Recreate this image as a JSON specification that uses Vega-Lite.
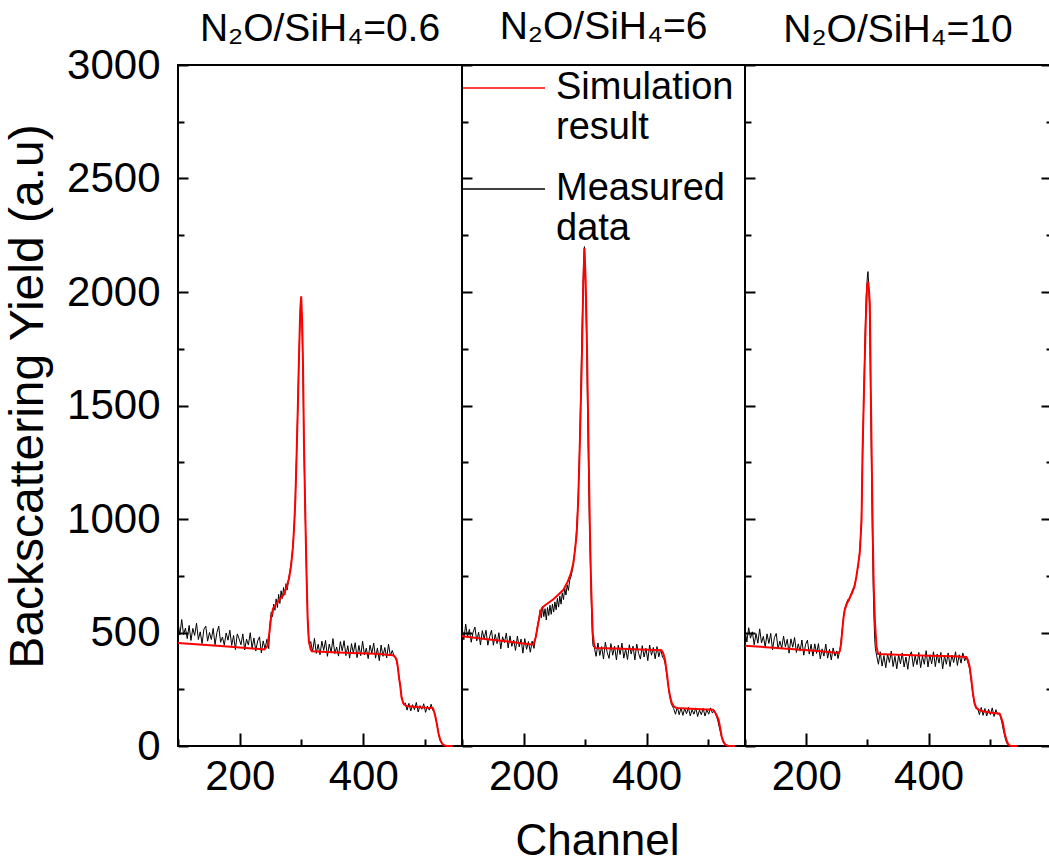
{
  "$schema": "https://vega.github.io/schema/vega-lite/v6.json",
  "padding": {"left": 3, "top": 7, "right": 0, "bottom": 0},
  "background": "white",
  "spacing": 0,
  "bounds": "flush",
  "datasets": {
    "p1": [
      {"s":"meas","ch":100,"y":545},{"s":"meas","ch":103,"y":489},{"s":"meas","ch":106,"y":557},{"s":"meas","ch":109,"y":491},{"s":"meas","ch":112,"y":519},{"s":"meas","ch":115,"y":473},{"s":"meas","ch":118,"y":531},{"s":"meas","ch":121,"y":465},{"s":"meas","ch":124,"y":518},{"s":"meas","ch":127,"y":487},{"s":"meas","ch":130,"y":541},{"s":"meas","ch":133,"y":469},{"s":"meas","ch":136,"y":503},{"s":"meas","ch":139,"y":451},{"s":"meas","ch":142,"y":515},{"s":"meas","ch":145,"y":528},{"s":"meas","ch":148,"y":462},{"s":"meas","ch":151,"y":500},{"s":"meas","ch":154,"y":469},{"s":"meas","ch":157,"y":518},{"s":"meas","ch":160,"y":446},{"s":"meas","ch":163,"y":500},{"s":"meas","ch":166,"y":528},{"s":"meas","ch":169,"y":457},{"s":"meas","ch":172,"y":480},{"s":"meas","ch":175,"y":444},{"s":"meas","ch":178,"y":498},{"s":"meas","ch":181,"y":466},{"s":"meas","ch":184,"y":510},{"s":"meas","ch":187,"y":443},{"s":"meas","ch":190,"y":487},{"s":"meas","ch":193,"y":425},{"s":"meas","ch":196,"y":494},{"s":"meas","ch":199,"y":472},{"s":"meas","ch":202,"y":446},{"s":"meas","ch":205,"y":494},{"s":"meas","ch":208,"y":423},{"s":"meas","ch":211,"y":471},{"s":"meas","ch":214,"y":445},{"s":"meas","ch":217,"y":499},{"s":"meas","ch":220,"y":432},{"s":"meas","ch":223,"y":476},{"s":"meas","ch":226,"y":419},{"s":"meas","ch":229,"y":463},{"s":"meas","ch":232,"y":481},{"s":"meas","ch":235,"y":410},{"s":"meas","ch":238,"y":463},{"s":"meas","ch":241,"y":427},{"s":"meas","ch":244,"y":470},{"s":"meas","ch":247,"y":429},{"s":"meas","ch":249,"y":540},{"s":"meas","ch":251,"y":590},{"s":"meas","ch":253,"y":570},{"s":"meas","ch":255,"y":625},{"s":"meas","ch":257,"y":598},{"s":"meas","ch":259,"y":648},{"s":"meas","ch":261,"y":610},{"s":"meas","ch":263,"y":668},{"s":"meas","ch":265,"y":628},{"s":"meas","ch":267,"y":684},{"s":"meas","ch":269,"y":650},{"s":"meas","ch":271,"y":698},{"s":"meas","ch":273,"y":665},{"s":"meas","ch":275,"y":715},{"s":"meas","ch":277,"y":688},{"s":"meas","ch":279,"y":735},{"s":"meas","ch":281,"y":765},{"s":"meas","ch":283,"y":800},{"s":"meas","ch":285,"y":850},{"s":"meas","ch":287,"y":920},{"s":"meas","ch":289,"y":1010},{"s":"meas","ch":291,"y":1180},{"s":"meas","ch":293,"y":1390},{"s":"meas","ch":295,"y":1610},{"s":"meas","ch":297,"y":1820},{"s":"meas","ch":299,"y":1960},{"s":"meas","ch":300,"y":1930},{"s":"meas","ch":301,"y":1840},{"s":"meas","ch":302,"y":1700},{"s":"meas","ch":303,"y":1520},{"s":"meas","ch":304,"y":1330},{"s":"meas","ch":305,"y":1170},{"s":"meas","ch":306,"y":1030},{"s":"meas","ch":307,"y":900},{"s":"meas","ch":308,"y":780},{"s":"meas","ch":309,"y":660},{"s":"meas","ch":310,"y":560},{"s":"meas","ch":311,"y":500},{"s":"meas","ch":312,"y":462},{"s":"meas","ch":313,"y":448},{"s":"meas","ch":315,"y":460},{"s":"meas","ch":318,"y":414},{"s":"meas","ch":321,"y":474},{"s":"meas","ch":324,"y":408},{"s":"meas","ch":327,"y":448},{"s":"meas","ch":330,"y":402},{"s":"meas","ch":333,"y":462},{"s":"meas","ch":336,"y":421},{"s":"meas","ch":339,"y":465},{"s":"meas","ch":342,"y":395},{"s":"meas","ch":345,"y":449},{"s":"meas","ch":348,"y":413},{"s":"meas","ch":351,"y":473},{"s":"meas","ch":354,"y":407},{"s":"meas","ch":357,"y":436},{"s":"meas","ch":360,"y":396},{"s":"meas","ch":363,"y":460},{"s":"meas","ch":366,"y":419},{"s":"meas","ch":369,"y":464},{"s":"meas","ch":372,"y":398},{"s":"meas","ch":375,"y":442},{"s":"meas","ch":378,"y":387},{"s":"meas","ch":381,"y":451},{"s":"meas","ch":384,"y":410},{"s":"meas","ch":387,"y":455},{"s":"meas","ch":390,"y":389},{"s":"meas","ch":393,"y":443},{"s":"meas","ch":396,"y":398},{"s":"meas","ch":399,"y":462},{"s":"meas","ch":402,"y":401},{"s":"meas","ch":405,"y":431},{"s":"meas","ch":408,"y":385},{"s":"meas","ch":411,"y":444},{"s":"meas","ch":414,"y":409},{"s":"meas","ch":417,"y":453},{"s":"meas","ch":420,"y":387},{"s":"meas","ch":423,"y":432},{"s":"meas","ch":426,"y":376},{"s":"meas","ch":429,"y":445},{"s":"meas","ch":432,"y":395},{"s":"meas","ch":435,"y":434},{"s":"meas","ch":438,"y":388},{"s":"meas","ch":441,"y":448},{"s":"meas","ch":444,"y":397},{"s":"meas","ch":447,"y":421},{"s":"meas","ch":450,"y":396},{"s":"meas","ch":452,"y":388},{"s":"meas","ch":454,"y":375},{"s":"meas","ch":456,"y":345},{"s":"meas","ch":458,"y":305},{"s":"meas","ch":460,"y":265},{"s":"meas","ch":462,"y":222},{"s":"meas","ch":464,"y":196},{"s":"meas","ch":466,"y":180},{"s":"meas","ch":468,"y":190},{"s":"meas","ch":471,"y":158},{"s":"meas","ch":474,"y":188},{"s":"meas","ch":477,"y":155},{"s":"meas","ch":480,"y":182},{"s":"meas","ch":483,"y":160},{"s":"meas","ch":486,"y":192},{"s":"meas","ch":489,"y":150},{"s":"meas","ch":492,"y":178},{"s":"meas","ch":495,"y":162},{"s":"meas","ch":498,"y":186},{"s":"meas","ch":501,"y":148},{"s":"meas","ch":504,"y":176},{"s":"meas","ch":507,"y":158},{"s":"meas","ch":510,"y":184},{"s":"meas","ch":513,"y":155},{"s":"meas","ch":515,"y":152},{"s":"meas","ch":517,"y":132},{"s":"meas","ch":519,"y":104},{"s":"meas","ch":521,"y":70},{"s":"meas","ch":523,"y":40},{"s":"meas","ch":525,"y":22},{"s":"meas","ch":527,"y":12},{"s":"meas","ch":530,"y":5},{"s":"meas","ch":533,"y":2},{"s":"meas","ch":536,"y":0},{"s":"meas","ch":540,"y":1},
      {"s":"sim","ch":100,"y":454},{"s":"sim","ch":140,"y":446},{"s":"sim","ch":180,"y":438},{"s":"sim","ch":220,"y":430},{"s":"sim","ch":240,"y":425},{"s":"sim","ch":245,"y":440},{"s":"sim","ch":248,"y":500},{"s":"sim","ch":251,"y":570},{"s":"sim","ch":254,"y":605},{"s":"sim","ch":260,"y":630},{"s":"sim","ch":266,"y":650},{"s":"sim","ch":271,"y":665},{"s":"sim","ch":276,"y":700},{"s":"sim","ch":280,"y":740},{"s":"sim","ch":283,"y":790},{"s":"sim","ch":286,"y":870},{"s":"sim","ch":288,"y":960},{"s":"sim","ch":290,"y":1080},{"s":"sim","ch":292,"y":1270},{"s":"sim","ch":294,"y":1480},{"s":"sim","ch":296,"y":1720},{"s":"sim","ch":298,"y":1920},{"s":"sim","ch":299.5,"y":1981},{"s":"sim","ch":301,"y":1880},{"s":"sim","ch":302.5,"y":1680},{"s":"sim","ch":304,"y":1340},{"s":"sim","ch":306,"y":1050},{"s":"sim","ch":308,"y":780},{"s":"sim","ch":310,"y":560},{"s":"sim","ch":312,"y":460},{"s":"sim","ch":315,"y":425},{"s":"sim","ch":317,"y":417},{"s":"sim","ch":340,"y":414},{"s":"sim","ch":380,"y":410},{"s":"sim","ch":420,"y":406},{"s":"sim","ch":448,"y":400},{"s":"sim","ch":451,"y":394},{"s":"sim","ch":454,"y":382},{"s":"sim","ch":456,"y":350},{"s":"sim","ch":458,"y":300},{"s":"sim","ch":460,"y":265},{"s":"sim","ch":462,"y":215},{"s":"sim","ch":465,"y":188},{"s":"sim","ch":470,"y":176},{"s":"sim","ch":490,"y":171},{"s":"sim","ch":513,"y":167},{"s":"sim","ch":516,"y":140},{"s":"sim","ch":519,"y":101},{"s":"sim","ch":522,"y":55},{"s":"sim","ch":525,"y":25},{"s":"sim","ch":528,"y":10},{"s":"sim","ch":531,"y":3},{"s":"sim","ch":535,"y":0},{"s":"sim","ch":545,"y":0}
    ],
    "p2": [
      {"s":"meas","ch":100,"y":525},{"s":"meas","ch":103,"y":468},{"s":"meas","ch":106,"y":537},{"s":"meas","ch":109,"y":480},{"s":"meas","ch":112,"y":514},{"s":"meas","ch":115,"y":457},{"s":"meas","ch":118,"y":501},{"s":"meas","ch":121,"y":524},{"s":"meas","ch":124,"y":463},{"s":"meas","ch":127,"y":501},{"s":"meas","ch":130,"y":445},{"s":"meas","ch":133,"y":508},{"s":"meas","ch":136,"y":472},{"s":"meas","ch":139,"y":510},{"s":"meas","ch":142,"y":444},{"s":"meas","ch":145,"y":482},{"s":"meas","ch":148,"y":510},{"s":"meas","ch":151,"y":444},{"s":"meas","ch":154,"y":492},{"s":"meas","ch":157,"y":451},{"s":"meas","ch":160,"y":499},{"s":"meas","ch":163,"y":428},{"s":"meas","ch":166,"y":481},{"s":"meas","ch":169,"y":455},{"s":"meas","ch":172,"y":498},{"s":"meas","ch":175,"y":432},{"s":"meas","ch":178,"y":485},{"s":"meas","ch":181,"y":439},{"s":"meas","ch":184,"y":467},{"s":"meas","ch":187,"y":421},{"s":"meas","ch":190,"y":484},{"s":"meas","ch":193,"y":437},{"s":"meas","ch":196,"y":471},{"s":"meas","ch":199,"y":409},{"s":"meas","ch":202,"y":473},{"s":"meas","ch":205,"y":426},{"s":"meas","ch":208,"y":460},{"s":"meas","ch":211,"y":413},{"s":"meas","ch":214,"y":462},{"s":"meas","ch":217,"y":430},{"s":"meas","ch":219,"y":470},{"s":"meas","ch":221,"y":500},{"s":"meas","ch":223,"y":535},{"s":"meas","ch":225,"y":560},{"s":"meas","ch":227,"y":600},{"s":"meas","ch":229,"y":565},{"s":"meas","ch":231,"y":615},{"s":"meas","ch":233,"y":570},{"s":"meas","ch":235,"y":605},{"s":"meas","ch":237,"y":555},{"s":"meas","ch":239,"y":610},{"s":"meas","ch":241,"y":575},{"s":"meas","ch":243,"y":620},{"s":"meas","ch":245,"y":580},{"s":"meas","ch":247,"y":625},{"s":"meas","ch":249,"y":590},{"s":"meas","ch":251,"y":635},{"s":"meas","ch":253,"y":600},{"s":"meas","ch":255,"y":650},{"s":"meas","ch":257,"y":612},{"s":"meas","ch":259,"y":660},{"s":"meas","ch":261,"y":625},{"s":"meas","ch":263,"y":675},{"s":"meas","ch":265,"y":645},{"s":"meas","ch":267,"y":695},{"s":"meas","ch":269,"y":665},{"s":"meas","ch":271,"y":710},{"s":"meas","ch":273,"y":685},{"s":"meas","ch":275,"y":730},{"s":"meas","ch":277,"y":745},{"s":"meas","ch":279,"y":770},{"s":"meas","ch":281,"y":800},{"s":"meas","ch":283,"y":850},{"s":"meas","ch":285,"y":905},{"s":"meas","ch":287,"y":990},{"s":"meas","ch":289,"y":1110},{"s":"meas","ch":291,"y":1300},{"s":"meas","ch":293,"y":1560},{"s":"meas","ch":295,"y":1820},{"s":"meas","ch":297,"y":2060},{"s":"meas","ch":298,"y":2160},{"s":"meas","ch":299,"y":2200},{"s":"meas","ch":300,"y":2120},{"s":"meas","ch":301,"y":2000},{"s":"meas","ch":302,"y":1860},{"s":"meas","ch":303,"y":1700},{"s":"meas","ch":304,"y":1500},{"s":"meas","ch":305,"y":1330},{"s":"meas","ch":306,"y":1150},{"s":"meas","ch":307,"y":1000},{"s":"meas","ch":308,"y":880},{"s":"meas","ch":309,"y":760},{"s":"meas","ch":310,"y":650},{"s":"meas","ch":311,"y":560},{"s":"meas","ch":312,"y":480},{"s":"meas","ch":313,"y":440},{"s":"meas","ch":315,"y":435},{"s":"meas","ch":318,"y":395},{"s":"meas","ch":321,"y":454},{"s":"meas","ch":324,"y":399},{"s":"meas","ch":327,"y":438},{"s":"meas","ch":330,"y":383},{"s":"meas","ch":333,"y":457},{"s":"meas","ch":336,"y":412},{"s":"meas","ch":339,"y":386},{"s":"meas","ch":342,"y":451},{"s":"meas","ch":345,"y":400},{"s":"meas","ch":348,"y":440},{"s":"meas","ch":351,"y":379},{"s":"meas","ch":354,"y":444},{"s":"meas","ch":357,"y":403},{"s":"meas","ch":360,"y":453},{"s":"meas","ch":363,"y":387},{"s":"meas","ch":366,"y":427},{"s":"meas","ch":369,"y":381},{"s":"meas","ch":372,"y":446},{"s":"meas","ch":375,"y":405},{"s":"meas","ch":378,"y":440},{"s":"meas","ch":381,"y":379},{"s":"meas","ch":384,"y":449},{"s":"meas","ch":387,"y":408},{"s":"meas","ch":390,"y":383},{"s":"meas","ch":393,"y":442},{"s":"meas","ch":396,"y":392},{"s":"meas","ch":399,"y":431},{"s":"meas","ch":402,"y":376},{"s":"meas","ch":405,"y":445},{"s":"meas","ch":408,"y":400},{"s":"meas","ch":411,"y":434},{"s":"meas","ch":414,"y":384},{"s":"meas","ch":417,"y":438},{"s":"meas","ch":420,"y":393},{"s":"meas","ch":423,"y":427},{"s":"meas","ch":426,"y":390},{"s":"meas","ch":428,"y":385},{"s":"meas","ch":430,"y":365},{"s":"meas","ch":432,"y":330},{"s":"meas","ch":434,"y":290},{"s":"meas","ch":436,"y":250},{"s":"meas","ch":438,"y":215},{"s":"meas","ch":440,"y":188},{"s":"meas","ch":442,"y":175},{"s":"meas","ch":444,"y":165},{"s":"meas","ch":447,"y":140},{"s":"meas","ch":450,"y":172},{"s":"meas","ch":453,"y":138},{"s":"meas","ch":456,"y":168},{"s":"meas","ch":459,"y":135},{"s":"meas","ch":462,"y":165},{"s":"meas","ch":465,"y":142},{"s":"meas","ch":468,"y":170},{"s":"meas","ch":471,"y":133},{"s":"meas","ch":474,"y":160},{"s":"meas","ch":477,"y":140},{"s":"meas","ch":480,"y":168},{"s":"meas","ch":483,"y":130},{"s":"meas","ch":486,"y":158},{"s":"meas","ch":489,"y":138},{"s":"meas","ch":492,"y":166},{"s":"meas","ch":495,"y":132},{"s":"meas","ch":498,"y":160},{"s":"meas","ch":501,"y":140},{"s":"meas","ch":504,"y":168},{"s":"meas","ch":507,"y":145},{"s":"meas","ch":510,"y":158},{"s":"meas","ch":512,"y":142},{"s":"meas","ch":514,"y":128},{"s":"meas","ch":516,"y":110},{"s":"meas","ch":518,"y":85},{"s":"meas","ch":520,"y":62},{"s":"meas","ch":522,"y":38},{"s":"meas","ch":524,"y":20},{"s":"meas","ch":526,"y":10},{"s":"meas","ch":529,"y":4},{"s":"meas","ch":532,"y":1},{"s":"meas","ch":536,"y":0},
      {"s":"sim","ch":100,"y":483},{"s":"sim","ch":130,"y":474},{"s":"sim","ch":160,"y":465},{"s":"sim","ch":190,"y":455},{"s":"sim","ch":216,"y":446},{"s":"sim","ch":220,"y":480},{"s":"sim","ch":224,"y":542},{"s":"sim","ch":227,"y":585},{"s":"sim","ch":230,"y":608},{"s":"sim","ch":235,"y":620},{"s":"sim","ch":240,"y":630},{"s":"sim","ch":248,"y":645},{"s":"sim","ch":256,"y":665},{"s":"sim","ch":265,"y":689},{"s":"sim","ch":272,"y":725},{"s":"sim","ch":277,"y":760},{"s":"sim","ch":281,"y":806},{"s":"sim","ch":284,"y":870},{"s":"sim","ch":286.5,"y":938},{"s":"sim","ch":289,"y":1085},{"s":"sim","ch":292,"y":1379},{"s":"sim","ch":294.6,"y":1673},{"s":"sim","ch":297.2,"y":2040},{"s":"sim","ch":299,"y":2194},{"s":"sim","ch":301,"y":2050},{"s":"sim","ch":302.8,"y":1819},{"s":"sim","ch":305.4,"y":1379},{"s":"sim","ch":308,"y":938},{"s":"sim","ch":310,"y":700},{"s":"sim","ch":312.5,"y":498},{"s":"sim","ch":314.5,"y":450},{"s":"sim","ch":316.5,"y":432},{"s":"sim","ch":350,"y":429},{"s":"sim","ch":390,"y":425},{"s":"sim","ch":424,"y":422},{"s":"sim","ch":427,"y":410},{"s":"sim","ch":430,"y":380},{"s":"sim","ch":433,"y":320},{"s":"sim","ch":435.5,"y":263},{"s":"sim","ch":438,"y":220},{"s":"sim","ch":441,"y":189},{"s":"sim","ch":445,"y":173},{"s":"sim","ch":449,"y":167},{"s":"sim","ch":480,"y":163},{"s":"sim","ch":508,"y":160},{"s":"sim","ch":511,"y":150},{"s":"sim","ch":514,"y":135},{"s":"sim","ch":517,"y":116},{"s":"sim","ch":520,"y":75},{"s":"sim","ch":522,"y":43},{"s":"sim","ch":525,"y":18},{"s":"sim","ch":528,"y":6},{"s":"sim","ch":532,"y":1},{"s":"sim","ch":544,"y":0}
    ],
    "p3": [
      {"s":"meas","ch":100,"y":515},{"s":"meas","ch":103,"y":458},{"s":"meas","ch":106,"y":521},{"s":"meas","ch":109,"y":475},{"s":"meas","ch":112,"y":503},{"s":"meas","ch":115,"y":446},{"s":"meas","ch":118,"y":495},{"s":"meas","ch":121,"y":453},{"s":"meas","ch":124,"y":516},{"s":"meas","ch":127,"y":454},{"s":"meas","ch":130,"y":483},{"s":"meas","ch":133,"y":436},{"s":"meas","ch":136,"y":494},{"s":"meas","ch":139,"y":452},{"s":"meas","ch":142,"y":496},{"s":"meas","ch":145,"y":424},{"s":"meas","ch":148,"y":477},{"s":"meas","ch":151,"y":496},{"s":"meas","ch":154,"y":429},{"s":"meas","ch":157,"y":462},{"s":"meas","ch":160,"y":431},{"s":"meas","ch":163,"y":484},{"s":"meas","ch":166,"y":437},{"s":"meas","ch":169,"y":470},{"s":"meas","ch":172,"y":409},{"s":"meas","ch":175,"y":472},{"s":"meas","ch":178,"y":435},{"s":"meas","ch":181,"y":478},{"s":"meas","ch":184,"y":412},{"s":"meas","ch":187,"y":450},{"s":"meas","ch":190,"y":418},{"s":"meas","ch":193,"y":467},{"s":"meas","ch":196,"y":400},{"s":"meas","ch":199,"y":448},{"s":"meas","ch":202,"y":466},{"s":"meas","ch":205,"y":405},{"s":"meas","ch":208,"y":448},{"s":"meas","ch":211,"y":396},{"s":"meas","ch":214,"y":450},{"s":"meas","ch":217,"y":408},{"s":"meas","ch":220,"y":451},{"s":"meas","ch":223,"y":384},{"s":"meas","ch":226,"y":428},{"s":"meas","ch":229,"y":396},{"s":"meas","ch":232,"y":449},{"s":"meas","ch":235,"y":387},{"s":"meas","ch":238,"y":426},{"s":"meas","ch":241,"y":379},{"s":"meas","ch":244,"y":432},{"s":"meas","ch":247,"y":396},{"s":"meas","ch":250,"y":419},{"s":"meas","ch":252,"y":385},{"s":"meas","ch":254,"y":410},{"s":"meas","ch":256,"y":440},{"s":"meas","ch":258,"y":490},{"s":"meas","ch":260,"y":545},{"s":"meas","ch":262,"y":590},{"s":"meas","ch":264,"y":615},{"s":"meas","ch":266,"y":630},{"s":"meas","ch":268,"y":645},{"s":"meas","ch":270,"y":640},{"s":"meas","ch":272,"y":660},{"s":"meas","ch":274,"y":675},{"s":"meas","ch":276,"y":690},{"s":"meas","ch":278,"y":700},{"s":"meas","ch":280,"y":720},{"s":"meas","ch":282,"y":745},{"s":"meas","ch":284,"y":780},{"s":"meas","ch":286,"y":820},{"s":"meas","ch":288,"y":880},{"s":"meas","ch":290,"y":990},{"s":"meas","ch":292,"y":1250},{"s":"meas","ch":294,"y":1520},{"s":"meas","ch":296,"y":1790},{"s":"meas","ch":298,"y":1980},{"s":"meas","ch":300,"y":2070},{"s":"meas","ch":301,"y":2090},{"s":"meas","ch":302,"y":2040},{"s":"meas","ch":303,"y":1950},{"s":"meas","ch":304,"y":1800},{"s":"meas","ch":305,"y":1600},{"s":"meas","ch":306,"y":1380},{"s":"meas","ch":307,"y":1160},{"s":"meas","ch":308,"y":960},{"s":"meas","ch":309,"y":780},{"s":"meas","ch":310,"y":640},{"s":"meas","ch":311,"y":540},{"s":"meas","ch":312,"y":470},{"s":"meas","ch":313,"y":430},{"s":"meas","ch":315,"y":400},{"s":"meas","ch":318,"y":360},{"s":"meas","ch":321,"y":415},{"s":"meas","ch":324,"y":352},{"s":"meas","ch":327,"y":398},{"s":"meas","ch":330,"y":345},{"s":"meas","ch":333,"y":405},{"s":"meas","ch":336,"y":368},{"s":"meas","ch":339,"y":418},{"s":"meas","ch":342,"y":350},{"s":"meas","ch":345,"y":395},{"s":"meas","ch":348,"y":340},{"s":"meas","ch":351,"y":402},{"s":"meas","ch":354,"y":362},{"s":"meas","ch":357,"y":410},{"s":"meas","ch":360,"y":348},{"s":"meas","ch":363,"y":392},{"s":"meas","ch":366,"y":338},{"s":"meas","ch":369,"y":400},{"s":"meas","ch":372,"y":415},{"s":"meas","ch":375,"y":350},{"s":"meas","ch":378,"y":398},{"s":"meas","ch":381,"y":358},{"s":"meas","ch":384,"y":412},{"s":"meas","ch":387,"y":345},{"s":"meas","ch":390,"y":396},{"s":"meas","ch":393,"y":360},{"s":"meas","ch":396,"y":420},{"s":"meas","ch":399,"y":348},{"s":"meas","ch":402,"y":402},{"s":"meas","ch":405,"y":362},{"s":"meas","ch":408,"y":415},{"s":"meas","ch":411,"y":350},{"s":"meas","ch":414,"y":405},{"s":"meas","ch":417,"y":365},{"s":"meas","ch":420,"y":412},{"s":"meas","ch":423,"y":340},{"s":"meas","ch":426,"y":398},{"s":"meas","ch":429,"y":360},{"s":"meas","ch":432,"y":410},{"s":"meas","ch":435,"y":350},{"s":"meas","ch":438,"y":400},{"s":"meas","ch":441,"y":368},{"s":"meas","ch":444,"y":415},{"s":"meas","ch":447,"y":355},{"s":"meas","ch":450,"y":402},{"s":"meas","ch":453,"y":365},{"s":"meas","ch":456,"y":410},{"s":"meas","ch":459,"y":375},{"s":"meas","ch":461,"y":390},{"s":"meas","ch":463,"y":380},{"s":"meas","ch":465,"y":360},{"s":"meas","ch":467,"y":340},{"s":"meas","ch":469,"y":300},{"s":"meas","ch":471,"y":255},{"s":"meas","ch":473,"y":215},{"s":"meas","ch":475,"y":185},{"s":"meas","ch":477,"y":168},{"s":"meas","ch":480,"y":168},{"s":"meas","ch":483,"y":138},{"s":"meas","ch":486,"y":170},{"s":"meas","ch":489,"y":135},{"s":"meas","ch":492,"y":165},{"s":"meas","ch":495,"y":132},{"s":"meas","ch":498,"y":162},{"s":"meas","ch":501,"y":138},{"s":"meas","ch":504,"y":168},{"s":"meas","ch":507,"y":130},{"s":"meas","ch":510,"y":160},{"s":"meas","ch":513,"y":140},{"s":"meas","ch":516,"y":145},{"s":"meas","ch":518,"y":122},{"s":"meas","ch":520,"y":100},{"s":"meas","ch":522,"y":72},{"s":"meas","ch":524,"y":48},{"s":"meas","ch":526,"y":26},{"s":"meas","ch":528,"y":12},{"s":"meas","ch":530,"y":5},{"s":"meas","ch":533,"y":2},{"s":"meas","ch":536,"y":0},{"s":"meas","ch":542,"y":0},
      {"s":"sim","ch":100,"y":442},{"s":"sim","ch":140,"y":434},{"s":"sim","ch":180,"y":426},{"s":"sim","ch":220,"y":418},{"s":"sim","ch":252,"y":410},{"s":"sim","ch":255,"y":418},{"s":"sim","ch":257,"y":450},{"s":"sim","ch":259,"y":510},{"s":"sim","ch":261,"y":565},{"s":"sim","ch":263,"y":600},{"s":"sim","ch":267,"y":630},{"s":"sim","ch":271,"y":652},{"s":"sim","ch":275,"y":675},{"s":"sim","ch":279,"y":703},{"s":"sim","ch":282,"y":747},{"s":"sim","ch":285,"y":800},{"s":"sim","ch":287.5,"y":850},{"s":"sim","ch":289,"y":920},{"s":"sim","ch":290.5,"y":997},{"s":"sim","ch":292,"y":1291},{"s":"sim","ch":294.6,"y":1585},{"s":"sim","ch":297.4,"y":1878},{"s":"sim","ch":299.5,"y":2025},{"s":"sim","ch":301,"y":2047},{"s":"sim","ch":302.5,"y":2010},{"s":"sim","ch":304,"y":1951},{"s":"sim","ch":305.5,"y":1585},{"s":"sim","ch":307.7,"y":1144},{"s":"sim","ch":309,"y":900},{"s":"sim","ch":310.4,"y":703},{"s":"sim","ch":312.5,"y":540},{"s":"sim","ch":314.8,"y":439},{"s":"sim","ch":317.4,"y":405},{"s":"sim","ch":350,"y":402},{"s":"sim","ch":400,"y":398},{"s":"sim","ch":440,"y":395},{"s":"sim","ch":461.7,"y":392},{"s":"sim","ch":464,"y":380},{"s":"sim","ch":467,"y":351},{"s":"sim","ch":470,"y":290},{"s":"sim","ch":472.4,"y":233},{"s":"sim","ch":475,"y":190},{"s":"sim","ch":478,"y":167},{"s":"sim","ch":483,"y":158},{"s":"sim","ch":488.7,"y":153},{"s":"sim","ch":500,"y":148},{"s":"sim","ch":516,"y":142},{"s":"sim","ch":518,"y":130},{"s":"sim","ch":521.4,"y":101},{"s":"sim","ch":524,"y":60},{"s":"sim","ch":527,"y":28},{"s":"sim","ch":530,"y":8},{"s":"sim","ch":532.3,"y":2},{"s":"sim","ch":536,"y":0},{"s":"sim","ch":545,"y":0}
    ]
  },
  "hconcat": [
    {
      "width": 284, "height": 681,
      "title": {"text": "N₂O/SiH₄=0.6", "dy": 19},
      "data": {"name": "p1"},
      "layer": [
        {
          "transform": [{"filter": "datum.s == 'meas'"}],
          "mark": {"type": "line", "strokeWidth": 1},
          "encoding": {
            "x": {"field": "ch", "type": "quantitative", "scale": {"domain": [100, 560], "nice": false, "zero": false},
                  "axis": {"orient": "bottom", "values": [200, 400], "ticks": false, "tickSize": 0, "labelPadding": 10, "title": null}},
            "y": {"field": "y", "type": "quantitative", "scale": {"domain": [0, 3000], "nice": false},
                  "axis": {"orient": "left", "values": [0, 500, 1000, 1500, 2000, 2500, 3000], "format": "d", "ticks": false, "tickSize": 0, "labelPadding": 18, "title": "Backscattering Yield (a.u)", "titleFontSize": 48, "titlePadding": 14, "titleY": 331}},
            "color": {"field": "s", "type": "nominal", "scale": {"domain": ["sim", "meas"], "range": ["#ff0000", "#000000"]}, "legend": null}
          }
        },
        {
          "transform": [{"filter": "datum.s == 'sim'"}],
          "mark": {"type": "line", "strokeWidth": 2},
          "encoding": {
            "x": {"field": "ch", "type": "quantitative", "scale": {"domain": [100, 560], "nice": false, "zero": false},
                  "axis": {"orient": "top", "offset": -681, "values": [200, 400], "tickSize": 13, "labels": false, "title": null}},
            "y": {"field": "y", "type": "quantitative", "scale": {"domain": [0, 3000], "nice": false},
                  "axis": {"orient": "right", "offset": -284, "values": [0, 500, 1000, 1500, 2000, 2500, 3000], "tickSize": 10, "labels": false, "title": null}},
            "color": {"field": "s", "type": "nominal", "scale": {"domain": ["sim", "meas"], "range": ["#ff0000", "#000000"]}, "legend": null}
          }
        },
        {
          "transform": [{"filter": "datum.s == 'sim'"}],
          "mark": {"type": "line", "strokeOpacity": 0},
          "encoding": {
            "x": {"field": "ch", "type": "quantitative", "scale": {"domain": [100, 560], "nice": false, "zero": false},
                  "axis": {"orient": "top", "offset": -681, "values": [100, 300, 500], "tickSize": 7, "labels": false, "title": null}},
            "y": {"field": "y", "type": "quantitative", "scale": {"domain": [0, 3000], "nice": false},
                  "axis": {"orient": "right", "offset": -284, "values": [250, 750, 1250, 1750, 2250, 2750], "tickSize": 6, "labels": false, "title": null}}
          }
        }
      ],
      "resolve": {"axis": {"x": "independent", "y": "independent"}}
    },
    {
      "width": 283, "height": 681,
      "title": {"text": "N₂O/SiH₄=6", "dy": 15},
      "data": {"name": "p2"},
      "layer": [
        {
          "transform": [{"filter": "datum.s == 'meas'"}],
          "mark": {"type": "line", "strokeWidth": 1},
          "encoding": {
            "x": {"field": "ch", "type": "quantitative", "scale": {"domain": [100, 560], "nice": false, "zero": false},
                  "axis": {"orient": "bottom", "values": [200, 400], "ticks": false, "tickSize": 0, "labelPadding": 10, "title": "Channel", "titleFontSize": 44, "titlePadding": 22, "titleX": 135}},
            "y": {"field": "y", "type": "quantitative", "scale": {"domain": [0, 3000], "nice": false}, "axis": null},
            "color": {"field": "s", "type": "nominal", "scale": {"domain": ["sim", "meas"], "range": ["#ff0000", "#000000"]},
                      "legend": {"orient": "none", "legendX": 0, "legendY": -19, "title": null, "symbolType": "stroke", "symbolSize": 6724, "symbolStrokeWidth": 1.5, "labelFontSize": 38, "labelOffset": 10, "labelLimit": 400, "rowPadding": -2, "labelExpr": "datum.label == 'sim' ? ['Simulation', '\u2002result'] : ['Measured', 'data']"}}
          }
        },
        {
          "transform": [{"filter": "datum.s == 'sim'"}],
          "mark": {"type": "line", "strokeWidth": 2},
          "encoding": {
            "x": {"field": "ch", "type": "quantitative", "scale": {"domain": [100, 560], "nice": false, "zero": false},
                  "axis": {"orient": "top", "offset": -681, "values": [200, 400], "tickSize": 13, "labels": false, "title": null}},
            "y": {"field": "y", "type": "quantitative", "scale": {"domain": [0, 3000], "nice": false},
                  "axis": {"orient": "right", "offset": -283, "values": [0, 500, 1000, 1500, 2000, 2500, 3000], "tickSize": 10, "labels": false, "title": null}},
            "color": {"field": "s", "type": "nominal", "scale": {"domain": ["sim", "meas"], "range": ["#ff0000", "#000000"]}}
          }
        },
        {
          "transform": [{"filter": "datum.s == 'sim'"}],
          "mark": {"type": "line", "strokeOpacity": 0},
          "encoding": {
            "x": {"field": "ch", "type": "quantitative", "scale": {"domain": [100, 560], "nice": false, "zero": false},
                  "axis": {"orient": "top", "offset": -681, "values": [100, 300, 500], "tickSize": 7, "labels": false, "title": null}},
            "y": {"field": "y", "type": "quantitative", "scale": {"domain": [0, 3000], "nice": false},
                  "axis": {"orient": "right", "offset": -283, "values": [250, 750, 1250, 1750, 2250, 2750], "tickSize": 6, "labels": false, "title": null}}
          }
        }
      ],
      "resolve": {"axis": {"x": "independent", "y": "independent"}}
    },
    {
      "width": 306, "height": 681,
      "title": {"text": "N₂O/SiH₄=10"},
      "data": {"name": "p3"},
      "layer": [
        {
          "transform": [{"filter": "datum.s == 'meas'"}],
          "mark": {"type": "line", "strokeWidth": 1},
          "encoding": {
            "x": {"field": "ch", "type": "quantitative", "scale": {"domain": [100, 600], "nice": false, "zero": false},
                  "axis": {"orient": "bottom", "values": [200, 400], "ticks": false, "tickSize": 0, "labelPadding": 10, "title": null}},
            "y": {"field": "y", "type": "quantitative", "scale": {"domain": [0, 3000], "nice": false},
                  "axis": {"orient": "left", "offset": -306, "values": [0, 500, 1000, 1500, 2000, 2500, 3000], "tickSize": 10, "labels": false, "title": null}},
            "color": {"field": "s", "type": "nominal", "scale": {"domain": ["sim", "meas"], "range": ["#ff0000", "#000000"]}, "legend": null}
          }
        },
        {
          "transform": [{"filter": "datum.s == 'sim'"}],
          "mark": {"type": "line", "strokeWidth": 2},
          "encoding": {
            "x": {"field": "ch", "type": "quantitative", "scale": {"domain": [100, 600], "nice": false, "zero": false},
                  "axis": {"orient": "top", "offset": -681, "values": [200, 400], "tickSize": 13, "labels": false, "title": null}},
            "y": {"field": "y", "type": "quantitative", "scale": {"domain": [0, 3000], "nice": false},
                  "axis": {"orient": "right", "offset": -306, "values": [0, 500, 1000, 1500, 2000, 2500, 3000], "tickSize": 10, "labels": false, "title": null}},
            "color": {"field": "s", "type": "nominal", "scale": {"domain": ["sim", "meas"], "range": ["#ff0000", "#000000"]}, "legend": null}
          }
        },
        {
          "transform": [{"filter": "datum.s == 'sim'"}],
          "mark": {"type": "line", "strokeOpacity": 0},
          "encoding": {
            "x": {"field": "ch", "type": "quantitative", "scale": {"domain": [100, 600], "nice": false, "zero": false},
                  "axis": {"orient": "top", "offset": -681, "values": [100, 300, 500], "tickSize": 7, "labels": false, "title": null}},
            "y": {"field": "y", "type": "quantitative", "scale": {"domain": [0, 3000], "nice": false},
                  "axis": {"orient": "right", "offset": -306, "values": [250, 750, 1250, 1750, 2250, 2750], "tickSize": 6, "labels": false, "title": null}}
          }
        },
        {
          "transform": [{"filter": "datum.s == 'sim'"}],
          "mark": {"type": "line", "strokeOpacity": 0},
          "encoding": {
            "x": {"field": "ch", "type": "quantitative", "scale": {"domain": [100, 600], "nice": false, "zero": false}, "axis": null},
            "y": {"field": "y", "type": "quantitative", "scale": {"domain": [0, 3000], "nice": false},
                  "axis": {"orient": "left", "offset": -306, "values": [250, 750, 1250, 1750, 2250, 2750], "tickSize": 5, "labels": false, "title": null}}
          }
        }
      ],
      "resolve": {"axis": {"x": "independent", "y": "independent"}}
    }
  ],
  "resolve": {"scale": {"color": "independent"}},
  "config": {
    "font": "Liberation Sans",
    "view": {"stroke": "#000000", "strokeWidth": 2},
    "title": {"fontSize": 39, "fontWeight": "normal", "color": "#000000", "offset": 14},
    "axis": {"grid": false, "domain": false, "tickColor": "#000000", "tickWidth": 2, "labelColor": "#000000", "labelFontSize": 42, "titleColor": "#000000", "titleFontWeight": "normal", "labelFlush": false, "labelOverlap": false},
    "legend": {"labelColor": "#000000"}
  }
}
